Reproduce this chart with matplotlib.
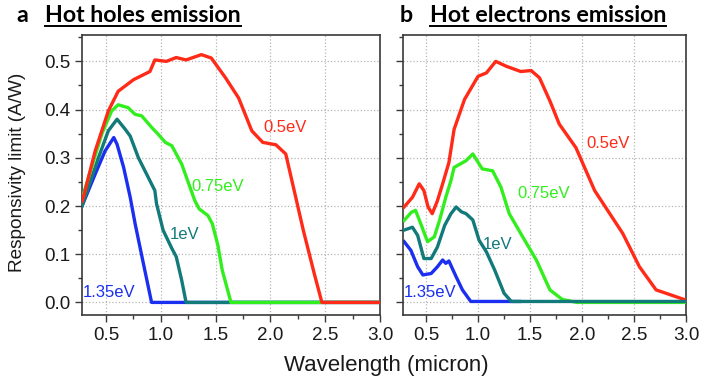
import matplotlib
matplotlib.use("Agg")
import matplotlib.pyplot as plt
from matplotlib.lines import Line2D
from matplotlib.ticker import MultipleLocator, FormatStrFormatter

plt.rcParams['font.family'] = ['Liberation Sans', 'DejaVu Sans']

# ---------- 数据：热空穴发射 (a) ----------
a_red_x = [0.28, 0.30, 0.40, 0.52, 0.61, 0.75, 0.90, 0.945, 1.05, 1.14, 1.23, 1.37, 1.46,
           1.59, 1.71, 1.83, 1.93, 2.05, 2.14, 2.21, 2.30, 2.40, 2.47, 3.0]
a_red_y = [0.21, 0.225, 0.314, 0.397, 0.438, 0.462, 0.479, 0.503, 0.50, 0.508, 0.503, 0.514, 0.507,
           0.466, 0.424, 0.356, 0.332, 0.327, 0.308, 0.239, 0.15, 0.06, 0.0, 0.0]

a_green_x = [0.28, 0.46, 0.55, 0.61, 0.70, 0.765, 0.825, 0.92, 0.975, 1.04, 1.10, 1.19, 1.31,
             1.35, 1.43, 1.47, 1.52, 1.56, 1.64, 3.0]
a_green_y = [0.215, 0.349, 0.397, 0.41, 0.404, 0.39, 0.387, 0.362, 0.349, 0.332, 0.325, 0.287, 0.211,
             0.194, 0.18, 0.163, 0.119, 0.067, 0.0, 0.0]

a_teal_x = [0.28, 0.43, 0.52, 0.60, 0.675, 0.72, 0.795, 0.87, 0.945, 0.96, 1.02, 1.10, 1.14,
            1.19, 1.23, 3.0]
a_teal_y = [0.20, 0.30, 0.356, 0.38, 0.359, 0.345, 0.30, 0.266, 0.232, 0.205, 0.15, 0.112, 0.095,
            0.046, 0.0, 0.0]

a_blue_x = [0.28, 0.40, 0.49, 0.57, 0.60, 0.66, 0.72, 0.765, 0.84, 0.915, 3.0]
a_blue_y = [0.20, 0.266, 0.314, 0.342, 0.328, 0.28, 0.218, 0.163, 0.081, 0.0, 0.0]

# ---------- 数据：热电子发射 (b) ----------
b_red_x = [0.29, 0.37, 0.435, 0.48, 0.52, 0.56, 0.61, 0.66, 0.72, 0.77, 0.87, 1.0, 1.08, 1.17,
           1.27, 1.41, 1.51, 1.59, 1.69, 1.78, 1.94, 2.12, 2.39, 2.55, 2.71, 2.98]
b_red_y = [0.198, 0.218, 0.246, 0.232, 0.198, 0.184, 0.211, 0.246, 0.29, 0.359, 0.421, 0.469, 0.476, 0.50,
           0.49, 0.479, 0.481, 0.466, 0.418, 0.37, 0.321, 0.232, 0.143, 0.074, 0.026, 0.006]

b_green_x = [0.29, 0.36, 0.40, 0.45, 0.515, 0.58, 0.63, 0.69, 0.74, 0.77, 0.885, 0.95, 1.04, 1.14,
             1.22, 1.30, 1.41, 1.56, 1.69, 1.81, 1.95, 3.0]
b_green_y = [0.17, 0.187, 0.191, 0.163, 0.126, 0.136, 0.17, 0.218, 0.253, 0.28, 0.294, 0.308, 0.277, 0.273,
             0.239, 0.184, 0.143, 0.088, 0.026, 0.006, 0.0, 0.0]

b_teal_x = [0.29, 0.37, 0.42, 0.48, 0.55, 0.61, 0.68, 0.74, 0.79, 0.84, 0.885, 0.95, 1.01, 1.08,
            1.16, 1.25, 1.32, 3.0]
b_teal_y = [0.15, 0.156, 0.139, 0.091, 0.091, 0.115, 0.16, 0.184, 0.198, 0.188, 0.184, 0.171, 0.129, 0.105,
            0.067, 0.019, 0.002, 0.002]

b_blue_x = [0.29, 0.355, 0.42, 0.47, 0.55, 0.61, 0.66, 0.69, 0.72, 0.79, 0.85, 0.93, 1.40]
b_blue_y = [0.126, 0.108, 0.074, 0.057, 0.06, 0.074, 0.088, 0.081, 0.086, 0.053, 0.026, 0.002, 0.002]

labels = ['0.5eV', '0.75eV', '1eV', '1.35eV']
colors = ['#ff2a17', '#33ee1f', '#127a7a', '#1a2ff0']
a_label_pos = [(1.94, 0.363), (1.28, 0.24), (1.08, 0.14), (0.29, 0.02)]
b_label_pos = [(2.04, 0.33), (1.38, 0.226), (1.05, 0.12), (0.285, 0.02)]

fig = plt.figure(figsize=(7.01, 3.79), dpi=100)
ax_a = fig.add_axes([0.117, 0.169, 0.425, 0.739])
ax_b = fig.add_axes([0.575, 0.169, 0.404, 0.739])

spine_col = '#3a3a3a'
for ax in (ax_a, ax_b):
    ax.set_xlim(0.28, 3.0)
    ax.set_ylim(-0.026, 0.555)
    ax.xaxis.set_major_locator(MultipleLocator(0.5))
    ax.xaxis.set_minor_locator(MultipleLocator(0.25))
    ax.yaxis.set_major_locator(MultipleLocator(0.1))
    ax.yaxis.set_minor_locator(MultipleLocator(0.05))
    ax.grid(True, which='major', color='#b5b5b5', linestyle=':', linewidth=0.9)
    ax.tick_params(which='major', direction='out', length=5, width=1, color=spine_col,
                   labelsize=13.6, labelcolor='#1a1a1a')
    ax.tick_params(which='minor', direction='out', length=3, width=1, color=spine_col)
    for s in ax.spines.values():
        s.set_color(spine_col)
        s.set_linewidth(1.2)
    ax.xaxis.set_major_formatter(FormatStrFormatter('%.1f'))
    ax.yaxis.set_major_formatter(FormatStrFormatter('%.1f'))

ax_b.tick_params(axis='y', labelleft=False)

# 面板 a：蓝在最下，红在最上
a_series = [(a_red_x, a_red_y), (a_green_x, a_green_y), (a_teal_x, a_teal_y), (a_blue_x, a_blue_y)]
for i, z in zip([3, 2, 1, 0], [2, 3, 4, 5]):
    x, y = a_series[i]
    ax_a.plot(x, y, color=colors[i], linewidth=2.4, zorder=z, solid_joinstyle='round')
for i in range(4):
    ax_a.text(a_label_pos[i][0], a_label_pos[i][1], labels[i], color=colors[i], fontsize=12,
              ha='left', va='center', zorder=6)

# 面板 b：青色最上
b_series = [(b_red_x, b_red_y), (b_green_x, b_green_y), (b_teal_x, b_teal_y), (b_blue_x, b_blue_y)]
for i, z in zip([3, 1, 0, 2], [2, 3, 4, 5]):
    x, y = b_series[i]
    ax_b.plot(x, y, color=colors[i], linewidth=2.4, zorder=z, solid_joinstyle='round')
for i in range(4):
    ax_b.text(b_label_pos[i][0], b_label_pos[i][1], labels[i], color=colors[i], fontsize=12,
              ha='left', va='center', zorder=6)

W, H = 701, 379
fig.text(18 / W, 1 - 172.5 / H, 'Responsivity limit (A/W)', fontsize=13.7, color='#1a1a1a',
         rotation=90, ha='center', va='center')
fig.text(386 / W, 8 / H, 'Wavelength (micron)', fontsize=16, color='#1a1a1a',
         ha='center', va='baseline')

# ---------- 标题（带下划线） ----------
title_font = dict(fontsize=16.7, fontweight='bold', family=['Lato', 'DejaVu Sans'], color='black')
fig.text(16 / W, 1 - 22 / H, 'a', va='baseline', ha='left', **title_font)
fig.text(400 / W, 1 - 22 / H, 'b', va='baseline', ha='left', **title_font)
t1 = fig.text(45 / W, 1 - 22 / H, 'Hot holes emission', va='baseline', ha='left', **title_font)
t2 = fig.text(430 / W, 1 - 22 / H, 'Hot electrons emission', va='baseline', ha='left', **title_font)

fig.canvas.draw()
renderer = fig.canvas.get_renderer()
for t in (t1, t2):
    bb = t.get_window_extent(renderer)
    x0, x1 = bb.x0 / W, bb.x1 / W
    yl = 1 - 25.5 / H
    fig.add_artist(Line2D([x0, x1], [yl, yl], transform=fig.transFigure, color='black', linewidth=1.4))

fig.savefig('out.png', dpi=100)
